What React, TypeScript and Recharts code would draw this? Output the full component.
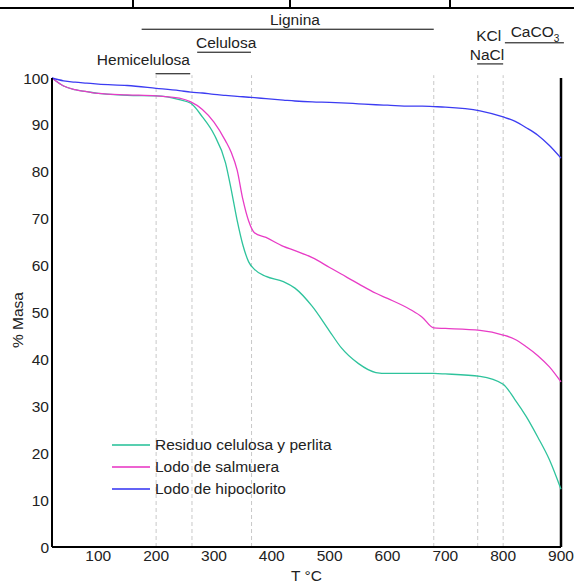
import React from 'react';
import {
  LineChart,
  Line,
  XAxis,
  YAxis,
  ReferenceLine,
  ReferenceDot,
} from 'recharts';

// temperatura (°C) y % de masa de cada muestra
const temps = [20, 40, 60, 80, 100, 150, 200, 240, 260, 280, 300, 320, 330, 340, 350, 360, 370, 390, 420, 440, 470, 500, 520, 550, 580, 600, 640, 660, 680, 700, 760, 800, 820, 840, 860, 880, 900];
const residuo = [100, 98.3, 97.5, 97.1, 96.7, 96.3, 96.2, 95.4, 94.6, 91.7, 88.0, 81.9, 76.1, 69.7, 64.4, 60.8, 59.2, 57.7, 56.6, 55.2, 51.3, 46.0, 42.5, 39.1, 37.2, 37.0, 37.0, 37.0, 37.0, 36.9, 36.4, 34.7, 31.5, 27.8, 23.4, 18.6, 12.3];
const salmuera = [100, 98.3, 97.5, 97.1, 96.7, 96.4, 96.2, 95.7, 94.9, 93.3, 90.6, 86.6, 84.1, 80.4, 74.1, 69.5, 67.0, 66.0, 64.1, 63.2, 61.7, 59.6, 58.2, 56.1, 54.1, 53.0, 50.6, 49.0, 46.7, 46.6, 46.2, 45.2, 44.3, 42.7, 40.8, 38.4, 35.2];
const hipoclorito = [100, 99.4, 99.1, 98.9, 98.7, 98.4, 97.8, 97.3, 97.0, 96.8, 96.5, 96.3, 96.2, 96.1, 96.0, 95.9, 95.8, 95.6, 95.3, 95.1, 94.9, 94.8, 94.7, 94.5, 94.3, 94.2, 94.0, 94.0, 93.9, 93.8, 93.0, 91.7, 90.8, 89.4, 87.8, 85.6, 82.9];

const xTicks = [100, 200, 300, 400, 500, 600, 700, 800, 900];
const yTicks = [0, 10, 20, 30, 40, 50, 60, 70, 80, 90, 100];

// temperaturas de las etapas de descomposición
const stageTemps = [200, 262, 365, 680, 756, 800];

const FONT = '"Liberation Sans", Arial, sans-serif';
const TEXT = '#222';

const series = [
  { key: 'residuo', name: 'Residuo celulosa y perlita', color: '#2ec39c' },
  { key: 'salmuera', name: 'Lodo de salmuera', color: '#e83cc6' },
  { key: 'hipoclorito', name: 'Lodo de hipoclorito', color: '#3c3cf2' },
];

const data = temps.map((t, i) => ({
  t,
  residuo: residuo[i],
  salmuera: salmuera[i],
  hipoclorito: hipoclorito[i],
}));

const labelStyle = { fill: TEXT, fontSize: 15.5, fontFamily: FONT };

const CaCO3Label = (props: any) => {
  const { viewBox } = props;
  const cx = viewBox.x + (viewBox.width || 0) / 2;
  const cy = viewBox.y + (viewBox.height || 0) / 2;
  return (
    <text x={cx} y={cy} dy={5} textAnchor="middle" fill={TEXT} fontSize={15.5} fontFamily={FONT}>
      CaCO
      <tspan fontSize={10} dy={5}>3</tspan>
    </text>
  );
};

const annotations = [
  { x: 440, y: 112.4, text: 'Lignina' },
  { x: 321, y: 107.5, text: 'Celulosa' },
  { x: 178, y: 104, text: 'Hemicelulosa' },
  { x: 775, y: 109, text: 'KCl' },
  { x: 772, y: 105.1, text: 'NaCl' },
];

const bars = [
  { x1: 175, x2: 680, y: 110.4 },
  { x1: 271, x2: 364, y: 105.5 },
  { x1: 199, x2: 259, y: 100.9 },
  { x1: 755, x2: 800, y: 103 },
  { x1: 803, x2: 905, y: 107.5 },
];

export default function App() {
  return (
    <div style={{ position: 'absolute', left: 0, top: 0, width: 574, height: 585, background: '#fff' }}>
      {/* bordes de la tabla superior */}
      <svg width={574} height={12} style={{ position: 'absolute', left: 0, top: 0 }}>
        <line x1={0} y1={8} x2={574} y2={8} stroke="#000" strokeWidth={2} />
        <line x1={133} y1={0} x2={133} y2={8} stroke="#000" strokeWidth={2} />
        <line x1={290} y1={0} x2={290} y2={8} stroke="#000" strokeWidth={2} />
        <line x1={450} y1={0} x2={450} y2={8} stroke="#000" strokeWidth={2} />
      </svg>
      <LineChart
        width={574}
        height={585}
        data={data}
        margin={{ top: 78, right: 13, left: 0, bottom: 0 }}
        style={{ position: 'absolute', left: 0, top: 0 }}
      >
        <XAxis
          dataKey="t"
          type="number"
          domain={[20, 900]}
          ticks={xTicks}
          height={38}
          tickLine={false}
          tickSize={0}
          tickMargin={3}
          axisLine={{ stroke: '#000', strokeWidth: 2 }}
          tick={{ fill: TEXT, fontSize: 15.5, fontFamily: FONT }}
          label={{ value: 'T °C', position: 'insideBottom', offset: 4, ...labelStyle }}
        />
        <YAxis
          type="number"
          domain={[0, 100]}
          ticks={yTicks}
          width={52}
          tickLine={false}
          tickSize={0}
          tickMargin={3}
          axisLine={{ stroke: '#000', strokeWidth: 2 }}
          tick={{ fill: TEXT, fontSize: 15.5, fontFamily: FONT }}
          label={{
            content: () => (
              <text x={18} y={320} transform="rotate(-90 18 320)" textAnchor="middle" dy={5} {...labelStyle}>
                % Masa
              </text>
            ),
          }}
        />

        {stageTemps.map((t) => (
          <ReferenceLine
            key={t}
            segment={[{ x: t, y: 0 }, { x: t, y: 100.6 }]}
            ifOverflow="visible"
            stroke="#c8c8c8"
            strokeDasharray="4 3"
          />
        ))}
        <ReferenceLine x={900} stroke="#000" strokeWidth={2.5} />

        {bars.map((b) => (
          <ReferenceLine
            key={`${b.x1}-${b.y}`}
            segment={[{ x: b.x1, y: b.y }, { x: b.x2, y: b.y }]}
            ifOverflow="visible"
            stroke="#000"
            strokeWidth={1}
          />
        ))}
        {annotations.map((a) => (
          <ReferenceDot
            key={a.text}
            x={a.x}
            y={a.y}
            r={0}
            fill="none"
            stroke="none"
            ifOverflow="visible"
            label={{ value: a.text, position: 'center', ...labelStyle }}
          />
        ))}
        <ReferenceDot
          x={855}
          y={109.8}
          r={0}
          fill="none"
          stroke="none"
          ifOverflow="visible"
          label={<CaCO3Label />}
        />

        {series.map((s) => (
          <Line
            key={s.key}
            type="monotone"
            dataKey={s.key}
            name={s.name}
            stroke={s.color}
            strokeWidth={1.3}
            dot={false}
            isAnimationActive={false}
          />
        ))}
      </LineChart>

      {/* leyenda */}
      <div style={{ position: 'absolute', left: 112, top: 434, fontFamily: FONT, fontSize: 15.5, color: TEXT }}>
        {series.map((s) => (
          <div key={s.key} style={{ display: 'flex', alignItems: 'center', height: 22 }}>
            <div style={{ width: 38, height: 0, borderTop: `2px solid ${s.color}`, opacity: 0.8 }} />
            <span style={{ marginLeft: 5, whiteSpace: 'nowrap' }}>{s.name}</span>
          </div>
        ))}
      </div>
    </div>
  );
}
